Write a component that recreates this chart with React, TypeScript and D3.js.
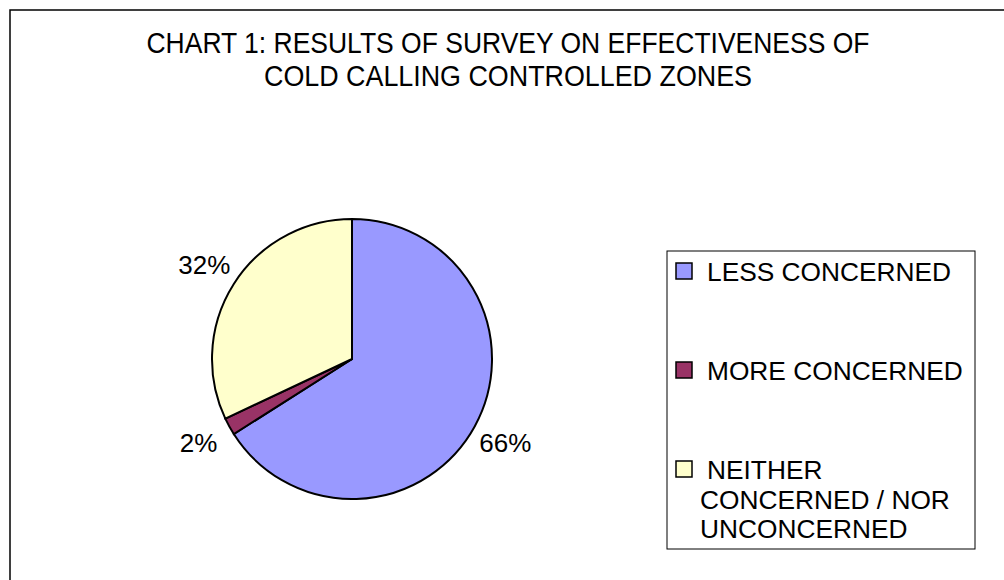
import * as d3 from "d3";

const TITLE_LINES = [
  "CHART 1: RESULTS OF SURVEY ON EFFECTIVENESS OF",
  "COLD CALLING CONTROLLED ZONES",
];
const TITLE_WIDTHS = [723, 488];

const CATEGORIES = ["LESS CONCERNED", "MORE CONCERNED", "NEITHER CONCERNED / NOR UNCONCERNED"];
const VALUES = [66, 2, 32];
const COLORS = ["#9999FF", "#993366", "#FFFFCC"];
// legend text as it wraps in the original
const LEGEND_LINES = [["LESS CONCERNED"], ["MORE CONCERNED"], ["NEITHER", "CONCERNED / NOR", "UNCONCERNED"]];

const W = 1004;
const H = 580;
const CX = 352;
const CY = 359;
const R = 140;
const LABEL_R = 175;
const FONT = "'Liberation Sans', Arial, sans-serif";

export default function App() {
  const total = d3.sum(VALUES);
  const pie = d3
    .pie<number>()
    .sort(null)
    .startAngle(0)
    .endAngle(2 * Math.PI);
  const arcs = pie(VALUES);
  const arc = d3.arc<d3.PieArcDatum<number>>().innerRadius(0).outerRadius(R);
  const labelArc = d3.arc<d3.PieArcDatum<number>>().innerRadius(LABEL_R).outerRadius(LABEL_R);

  const legendX = 667;
  const legendY = 251;
  const rowStep = 99;

  return (
    <svg
      width={W}
      height={H}
      style={{ position: "absolute", left: 0, top: 0, background: "#fff" }}
      fontFamily={FONT}
    >
      {/* outer chart frame (runs off right/bottom) */}
      <rect x={10} y={10} width={W + 20} height={H + 20} fill="#fff" stroke="#000" strokeWidth={1.5} />

      {TITLE_LINES.map((t, i) => (
        <text
          key={t}
          x={508}
          y={53 + i * 33}
          textAnchor="middle"
          fontSize={30}
          textLength={TITLE_WIDTHS[i]}
          lengthAdjust="spacingAndGlyphs"
          fill="#000"
        >
          {t}
        </text>
      ))}

      <g transform={`translate(${CX},${CY})`}>
        {arcs.map((a, i) => (
          <path key={CATEGORIES[i]} d={arc(a) ?? ""} fill={COLORS[i]} stroke="#000" strokeWidth={2} />
        ))}
        {arcs.map((a, i) => {
          const [lx, ly] = labelArc.centroid(a);
          return (
            <text key={i} x={lx} y={ly + 9} textAnchor="middle" fontSize={26} fill="#000">
              {`${Math.round((a.data / total) * 100)}%`}
            </text>
          );
        })}
      </g>

      {/* legend */}
      <rect x={legendX} y={legendY} width={308} height={298} fill="#fff" stroke="#000" strokeWidth={1} />
      {LEGEND_LINES.map((lines, i) => {
        const top = legendY + 12 + i * rowStep;
        return (
          <g key={i}>
            <rect x={676} y={top} width={16} height={16} fill={COLORS[i]} stroke="#000" strokeWidth={1.5} />
            {lines.map((ln, j) => (
              <text key={ln} x={j === 0 ? 707 : 700} y={top + 18 + j * 29.5} fontSize={26.3} fill="#000">
                {ln}
              </text>
            ))}
          </g>
        );
      })}
    </svg>
  );
}
